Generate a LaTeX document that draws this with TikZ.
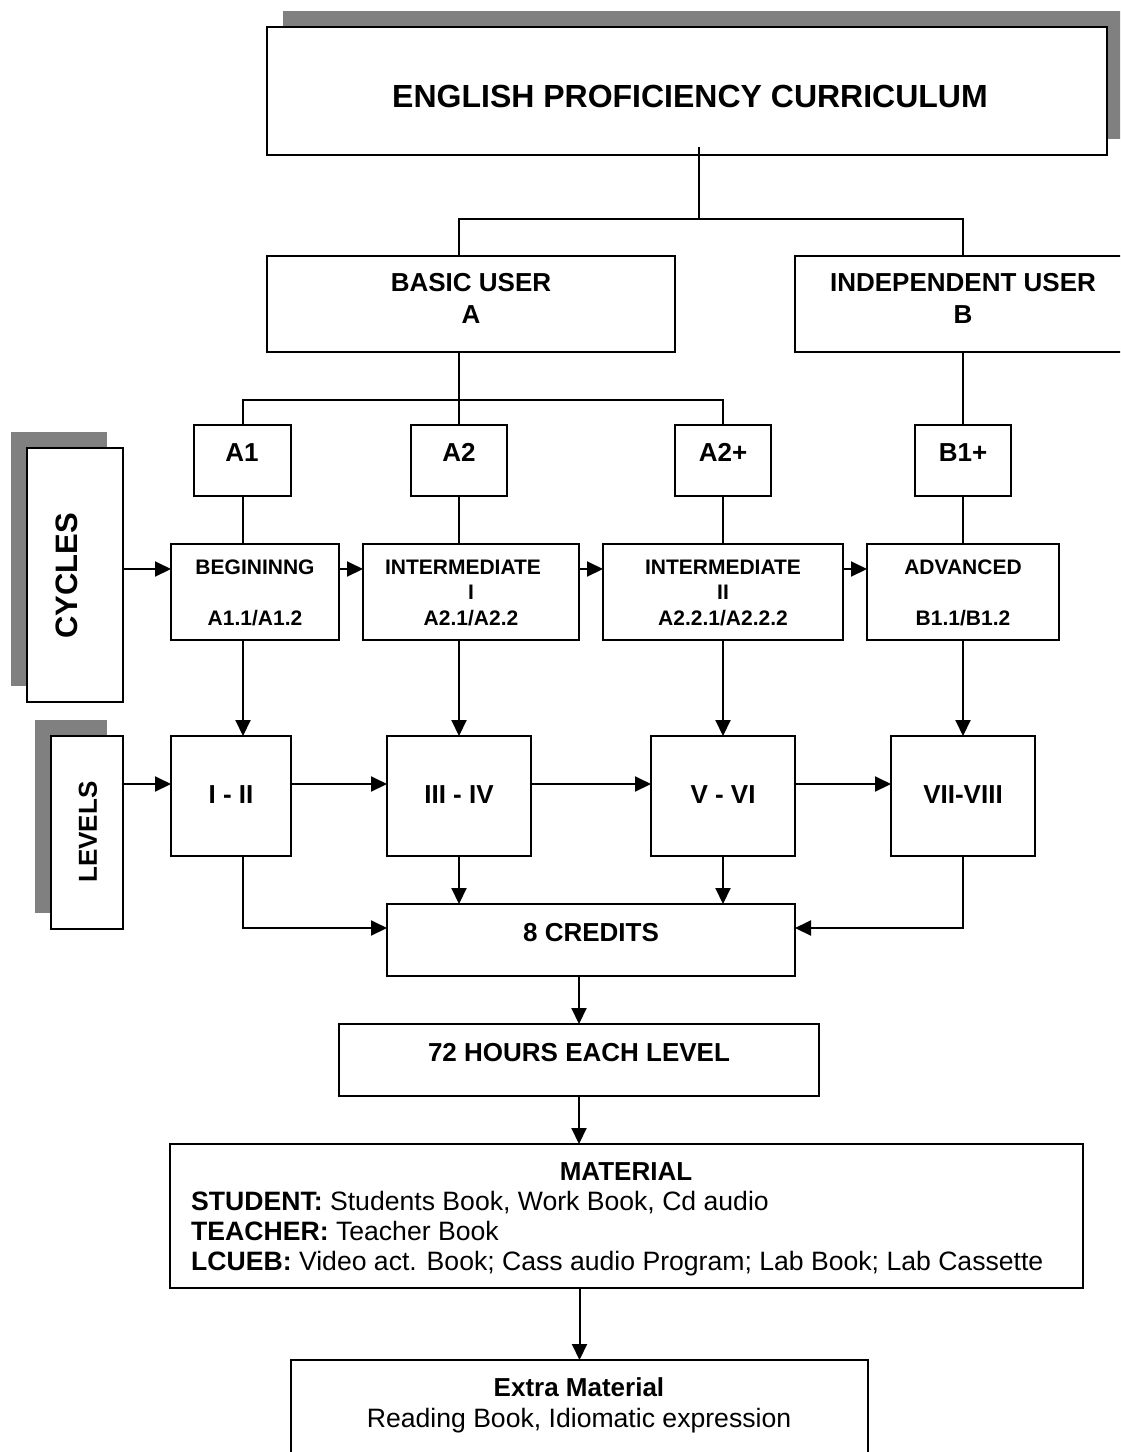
\documentclass[tikz,border=0pt]{standalone}
\usepackage{fontspec}
\setmainfont{Liberation Sans}
\usetikzlibrary{arrows.meta,calc}
\definecolor{shadowgray}{HTML}{808080}
\begin{document}
\begin{tikzpicture}[x=1pt,y=-1pt,
  box/.style={draw=black, line width=2pt, fill=white, inner sep=0pt, outer sep=0pt, anchor=north west},
  shadowbox/.style={fill=shadowgray},
  conn/.style={line width=2pt, draw=black},
  arr/.style={conn, -{Triangle[length=16pt,width=15pt]}},
  tb/.style={font=\fontsize{26pt}{30pt}\selectfont\bfseries, inner sep=0pt, anchor=base},
  tr/.style={font=\fontsize{26.6pt}{30pt}\selectfont, inner sep=0pt, anchor=base},
  ts/.style={font=\fontsize{21pt}{25pt}\selectfont\bfseries, inner sep=0pt, anchor=base},
  ttitle/.style={font=\fontsize{32pt}{36pt}\selectfont\bfseries, inner sep=0pt, anchor=base},
  tside/.style={font=\fontsize{#1pt}{#1pt}\selectfont\bfseries, inner sep=0pt, anchor=center, rotate=90},
]
\useasboundingbox (0,0) rectangle (1120,1452);
\clip (0,0) rectangle (1120,1452);

% shadows
\fill[shadowbox] (283,11) rectangle (1126,139);
\fill[shadowbox] (11,432) rectangle (107,686);
\fill[shadowbox] (35,720) rectangle (107,913);

% boxes
\node[box, minimum width=840pt, minimum height=128pt] (title) at (267,27) {};
\node[box, minimum width=408pt, minimum height=96pt] (basic) at (267,256) {};
\node[box, minimum width=336pt, minimum height=96pt] (indep) at (795,256) {};
\node[box, minimum width=97pt, minimum height=71pt] (a1) at (194,425) {};
\node[box, minimum width=96pt, minimum height=71pt] (a2) at (411,425) {};
\node[box, minimum width=96pt, minimum height=71pt] (a2p) at (675,425) {};
\node[box, minimum width=96pt, minimum height=71pt] (b1p) at (915,425) {};
\node[box, minimum width=168pt, minimum height=96pt] (beg) at (171,544) {};
\node[box, minimum width=216pt, minimum height=96pt] (int1) at (363,544) {};
\node[box, minimum width=240pt, minimum height=96pt] (int2) at (603,544) {};
\node[box, minimum width=192pt, minimum height=96pt] (adv) at (867,544) {};
\node[box, minimum width=96pt, minimum height=254pt] (cyc) at (27,448) {};
\node[box, minimum width=72pt, minimum height=193pt] (lev) at (51,736) {};
\node[box, minimum width=120pt, minimum height=120pt] (lv1) at (171,736) {};
\node[box, minimum width=144pt, minimum height=120pt] (lv2) at (387,736) {};
\node[box, minimum width=144pt, minimum height=120pt] (lv3) at (651,736) {};
\node[box, minimum width=144pt, minimum height=120pt] (lv4) at (891,736) {};
\node[box, minimum width=408pt, minimum height=72pt] (cred) at (387,904) {};
\node[box, minimum width=480pt, minimum height=72pt] (hrs) at (339,1024) {};
\node[box, minimum width=913pt, minimum height=144pt] (mat) at (170,1144) {};
\node[box, minimum width=577pt, minimum height=130pt] (extra) at (291,1360) {};

% texts
\node[ttitle] (tTitle) at (690,107) {ENGLISH PROFICIENCY CURRICULUM};
\node[tb] (tBasic) at (471,291) {BASIC USER};
\node[tb] (tBasicA) at (471,323) {A};
\node[tb] (tIndep) at (963,291) {INDEPENDENT USER};
\node[tb] (tIndepB) at (963,323) {B};
\node[tb] (tA1) at (242,461) {A1};
\node[tb] (tA2) at (459,461) {A2};
\node[tb] (tA2p) at (723,461) {A2+};
\node[tb] (tB1p) at (963,461) {B1+};
\node[ts] (tBeg1) at (255,574) {BEGININNG};
\node[ts] (tBeg2) at (255,625) {A1.1/A1.2};
\node[ts] (tInt11) at (463,574) {INTERMEDIATE};
\node[ts] (tInt12) at (471,599.5) {I};
\node[ts] (tInt13) at (471,625) {A2.1/A2.2};
\node[ts] (tInt21) at (723,574) {INTERMEDIATE};
\node[ts] (tInt22) at (723,599.5) {II};
\node[ts] (tInt23) at (723,625) {A2.2.1/A2.2.2};
\node[ts] (tAdv1) at (963,574) {ADVANCED};
\node[ts] (tAdv2) at (963,625) {B1.1/B1.2};
\node[tside=31] (tCyc) at (67,576) {CYCLES};
\node[tside=26] (tLev) at (88,832) {LEVELS};
\node[tb] (tLv1) at (231,803) {I - II};
\node[tb] (tLv2) at (459,803) {III - IV};
\node[tb] (tLv3) at (723,803) {V - VI};
\node[tb] (tLv4) at (963,803) {VII-VIII};
\node[tb] (tCred) at (591,941) {8 CREDITS};
\node[tb] (tHrs) at (579,1061) {72 HOURS EACH LEVEL};
\node[tb] (tMat) at (626,1180) {MATERIAL};
\node[tr, anchor=base west] (tStu) at (191,1210) {\textbf{STUDENT:} Students Book, Work Book, Cd audio};
\node[tr, anchor=base west] (tTea) at (191,1240) {\textbf{TEACHER:} Teacher Book};
\node[tr, anchor=base west] (tLcu) at (191,1270) {\textbf{LCUEB:} Video act. Book; Cass audio Program; Lab Book; Lab Cassette};
\node[tb] (tExt1) at (579,1396) {Extra Material};
\node[tr] (tExt2) at (579,1427) {Reading Book, Idiomatic expression};

% junction coordinates
\coordinate (jTop) at (699,219);
\coordinate (jA) at (459,219);
\coordinate (jB) at (963,219);
\coordinate (jL) at (243,400);
\coordinate (jM) at (459,400);
\coordinate (jR) at (723,400);
\coordinate (yc) at (0,569);
\coordinate (yl) at (0,784);
\coordinate (yb) at (0,928);

% tree connectors
\draw[conn] ($(title.south -| jTop)+(0,-8)$) -- (jTop);
\draw[conn] (basic.north -| jA) -- (jA) -- (jB) -- (indep.north);
\draw[conn] (basic.south -| jM) -- (jM);
\draw[conn] (a1.north -| jL) -- (jL) -- (jR) -- (a2p.north -| jR);
\draw[conn] (jM) -- (a2.north);
\draw[conn] (indep.south) -- (b1p.north);
\draw[conn] (a1.south -| jL) -- (beg.north -| jL);
\draw[conn] (a2.south) -- (int1.north -| a2.south);
\draw[conn] (a2p.south -| jR) -- (int2.north -| jR);
\draw[conn] (b1p.south) -- (adv.north -| b1p.south);

% cycle arrows
\draw[arr] (cyc.east |- yc) -- (beg.west |- yc);
\draw[arr] (beg.east |- yc) -- (int1.west |- yc);
\draw[arr] (int1.east |- yc) -- (int2.west |- yc);
\draw[arr] (int2.east |- yc) -- (adv.west |- yc);

% cycles to levels
\draw[arr] (beg.south -| jL) -- (lv1.north -| jL);
\draw[arr] (int1.south -| lv2.north) -- (lv2.north);
\draw[arr] (int2.south -| lv3.north) -- (lv3.north);
\draw[arr] (adv.south -| lv4.north) -- (lv4.north);

% level arrows
\draw[arr] (lev.east |- yl) -- (lv1.west |- yl);
\draw[arr] (lv1.east |- yl) -- (lv2.west |- yl);
\draw[arr] (lv2.east |- yl) -- (lv3.west |- yl);
\draw[arr] (lv3.east |- yl) -- (lv4.west |- yl);

% levels to credits
\draw[arr] (lv1.south -| jL) |- (cred.west |- yb);
\draw[arr] (lv2.south) -- (cred.north -| lv2.south);
\draw[arr] (lv3.south) -- (cred.north -| lv3.south);
\draw[arr] (lv4.south) |- (cred.east |- yb);

% lower chain
\draw[arr] (cred.south -| hrs.north) -- (hrs.north);
\draw[arr] (hrs.south) -- (mat.north -| hrs.south);
\draw[arr] (mat.south -| extra.north) -- (extra.north);
\end{tikzpicture}
\end{document}
